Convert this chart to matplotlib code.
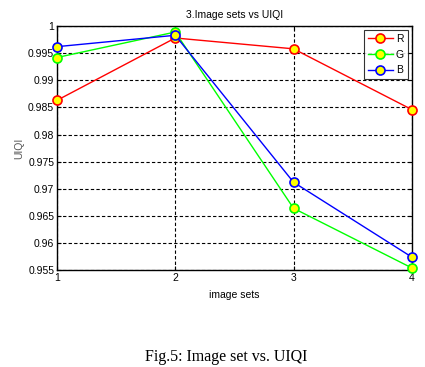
import matplotlib
matplotlib.use("Agg")
import matplotlib.pyplot as plt

# image set index and UIQI values per channel
image_sets = [1, 2, 3, 4]
uiqi_r = [0.9863, 0.9978, 0.9958, 0.9846]
uiqi_g = [0.9942, 0.9989, 0.9664, 0.9554]
uiqi_b = [0.9962, 0.9983, 0.9712, 0.9574]
y_ticks = [0.955, 0.96, 0.965, 0.97, 0.975, 0.98, 0.985, 0.99, 0.995, 1]
y_tick_labels = ['0.955', '0.96', '0.965', '0.97', '0.975', '0.98', '0.985', '0.99', '0.995', '1']

plt.rcParams['font.family'] = ['Liberation Sans Narrow', 'Liberation Sans', 'DejaVu Sans']

fig = plt.figure(figsize=(4.25, 3.67), dpi=100)
ax = fig.add_axes([0.134, 0.264, 0.835, 0.665])

series = [(uiqi_r, 'R', '#ff0000'), (uiqi_g, 'G', '#00ff00'), (uiqi_b, 'B', '#0000ff')]
for vals, name, col in series:
    ax.plot(image_sets, vals, '-o', color=col, linewidth=1.0,
            markersize=6.5, markerfacecolor='#ffff00', markeredgecolor=col,
            markeredgewidth=1.2, label=name, clip_on=False, zorder=3)

ax.set_xlim(1, 4)
ax.set_ylim(0.955, 1)
ax.set_xticks(image_sets)
ax.set_yticks(y_ticks)
ax.set_yticklabels(y_tick_labels)
ax.tick_params(direction='in', labelsize=7.5, length=3, width=0.8, top=True, right=True,
               labeltop=False, labelright=False, pad=2)
ax.grid(True, color='black', linestyle='--', linewidth=0.8, dashes=(3, 2))
for sp in ax.spines.values():
    sp.set_linewidth(1.0)

ax.set_title('3.Image sets vs UIQI', fontsize=7.5, pad=6)
ax.set_xlabel('image sets', fontsize=7.5, labelpad=5)
ax.set_ylabel('UIQI', fontsize=7.5, labelpad=3, color='#555555')

leg = ax.legend(loc='upper right', fontsize=7.5, frameon=True, fancybox=False,
                edgecolor='black', handlelength=2.4, borderaxespad=0.4,
                labelspacing=0.55, handletextpad=0.3, borderpad=0.35)
leg.get_frame().set_linewidth(0.8)

fig.text(0.532, 0.005, 'Fig.5: Image set vs. UIQI', ha='center', va='bottom',
         fontsize=11.5, family=['Liberation Serif', 'DejaVu Serif'])

fig.savefig('out.png', dpi=100)
